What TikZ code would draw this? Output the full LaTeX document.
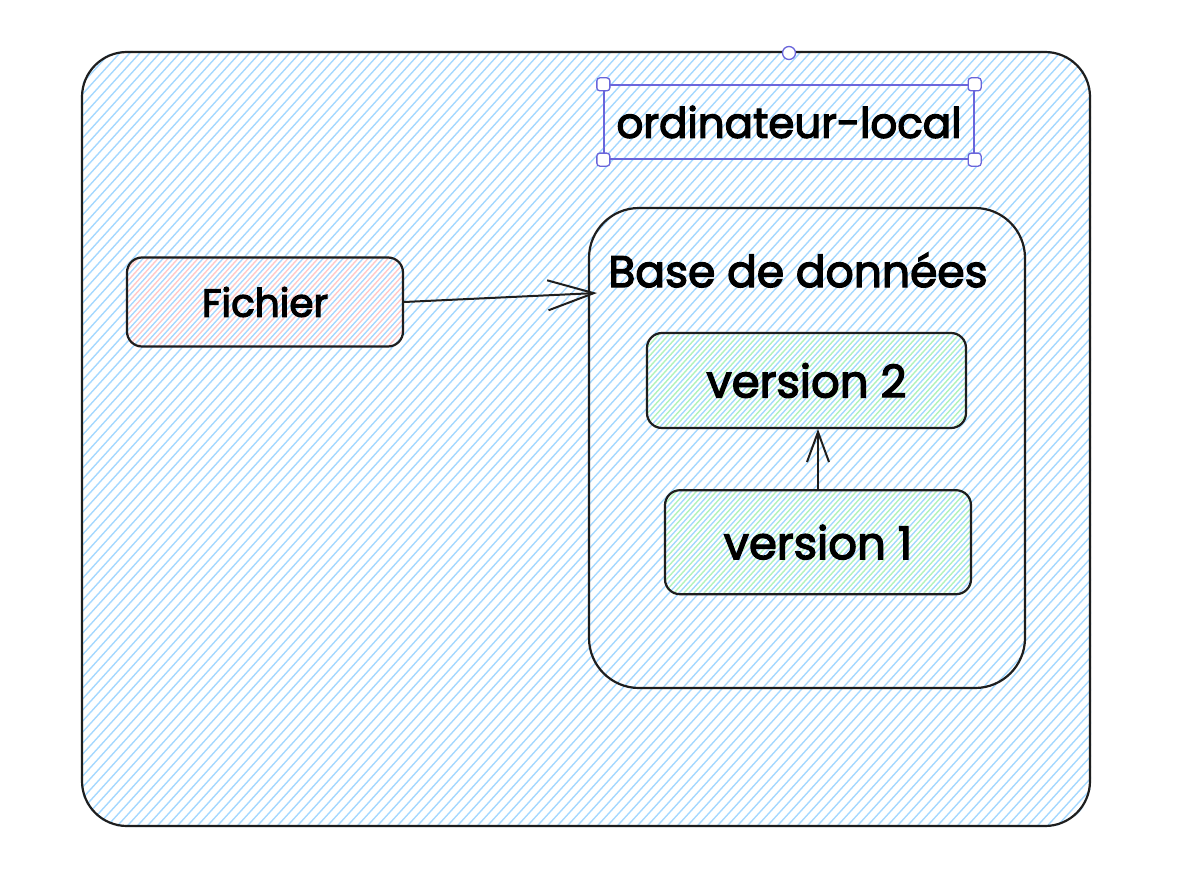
\documentclass[tikz,border=0pt]{standalone}
\usepackage{fontspec}
\setmainfont{Poppins}[BoldFont=Poppins, BoldFeatures={FakeBold=3}]
\usepackage{tikz}
\usetikzlibrary{shapes,arrows,arrows.meta,calc,positioning,backgrounds}
\definecolor{ink}{HTML}{1E1E1E}
\definecolor{hatchblue}{HTML}{A5D8FF}
\definecolor{hatchred}{HTML}{FFC9C9}
\definecolor{hatchgreen}{HTML}{B2F2BB}
\definecolor{selectc}{HTML}{6965DB}
\tikzstyle{block} = [rectangle, draw=ink, line width=2.2pt, rounded corners=15pt, text centered, inner sep=0pt]
\tikzstyle{line} = [draw=ink, line width=2pt, -{Straight Barb[length=46pt, width=30pt, line width=2pt]}]
\tikzstyle{shortline} = [draw=ink, line width=2pt, -{Straight Barb[length=30pt, width=22pt, line width=2pt]}]
\tikzstyle{handle} = [rectangle, draw=selectc, fill=white, line width=1.3pt, rounded corners=3pt, minimum size=13pt, inner sep=0pt]
\newcommand{\hatchfill}[4]{%
  \begin{scope}
    \clip[rounded corners=#3] (#1.south west) rectangle (#1.north east);
    \foreach \x in {-900,-890,...,1200}
      \draw[#2, line width=1.4pt] (\x+#4,900) -- ++(818,-900);
  \end{scope}}
\begin{document}
\begin{tikzpicture}[x=1pt, y=-1pt, font=\bfseries]
\useasboundingbox (0,0) rectangle (1194,880);

\node [block, rounded corners=45pt, minimum width=1008pt, minimum height=774pt] (computer) at (586,439) {};
\node [draw=selectc, line width=1.3pt, minimum width=370pt, minimum height=74pt, font=\bfseries\fontsize{42}{48}\selectfont] (title) at (789,122) {ordinateur-local};
\node [block, rounded corners=50pt, minimum width=436pt, minimum height=480pt] (db) at (807,448) {};
\node [font=\bfseries\fontsize{44}{50}\selectfont] (dbtitle) at (798,270) {Base de données};
\node [block, minimum width=276pt, minimum height=89pt, font=\bfseries\fontsize{39}{45}\selectfont] (fichier) at (265,302) {Fichier};
\node [block, minimum width=319pt, minimum height=95pt, font=\bfseries\fontsize{45}{50}\selectfont] (v2) at (806.5,380.5) {version 2};
\node [block, minimum width=306pt, minimum height=104pt, font=\bfseries\fontsize{45}{50}\selectfont, below = 60pt of v2, xshift=11.5pt] (v1) {version 1};
\coordinate (db in) at (597,293);

\foreach \c in {north west, north east, south west, south east}
  \node [handle] at (title.\c) {};
\node [circle, draw=selectc, fill=white, line width=1.3pt, minimum size=13pt, inner sep=0pt] (rotate) at (789,53) {};

\path [line] (fichier.east) -- (db in);
\path [shortline] (v1.north) -- (v2.south -| v1.north);

\begin{pgfonlayer}{background}
\hatchfill{computer}{hatchblue}{45pt}{0}
\hatchfill{fichier}{hatchred}{15pt}{5}
\hatchfill{v2}{hatchgreen}{15pt}{5}
\hatchfill{v1}{hatchgreen}{15pt}{5}
\end{pgfonlayer}
\end{tikzpicture}
\end{document}
